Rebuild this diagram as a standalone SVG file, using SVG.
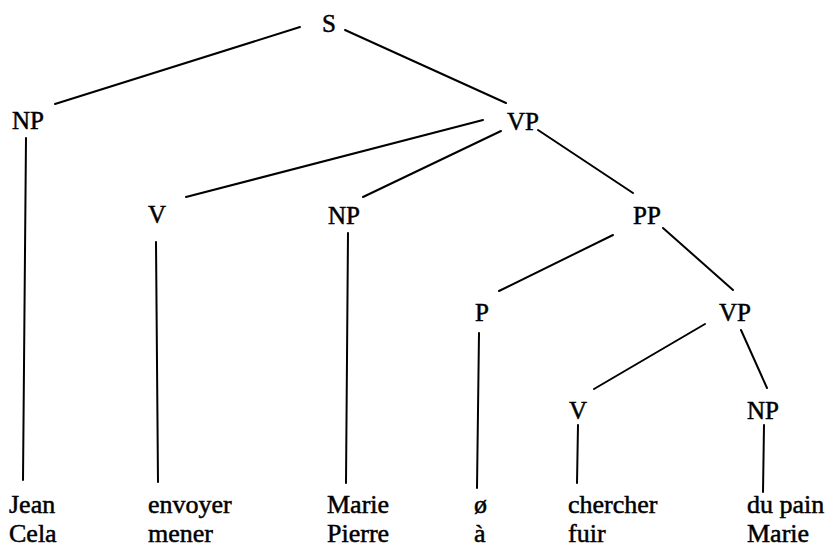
<svg xmlns="http://www.w3.org/2000/svg" width="829" height="548" viewBox="0 0 829 548">
<style>
text{font-family:"Liberation Serif","Times New Roman",Tinos,"DejaVu Serif",serif;fill:#000;stroke:#000;stroke-width:0.5}
.n{font-size:25px;text-anchor:middle}
.w{font-size:26px}
.c line{stroke:#000;stroke-width:2;stroke-linecap:round}
</style>
<rect width="829" height="548" fill="#fff"/>
<g class="c" id="connectors">
<line x1="300" y1="27" x2="55" y2="104"/>
<line x1="345" y1="30" x2="506" y2="103"/>
<line x1="26" y1="138" x2="23" y2="480"/>
<line x1="483" y1="120" x2="186" y2="197"/>
<line x1="501" y1="131" x2="363" y2="197"/>
<line x1="538" y1="130" x2="633" y2="193"/>
<line x1="156" y1="242" x2="158" y2="482"/>
<line x1="348" y1="233" x2="346" y2="483"/>
<line x1="613" y1="235" x2="499" y2="291"/>
<line x1="663" y1="228" x2="733" y2="290"/>
<line x1="479" y1="333" x2="477" y2="488"/>
<line x1="705" y1="324" x2="594" y2="389"/>
<line x1="741" y1="330" x2="767" y2="388"/>
<line x1="578" y1="425" x2="577" y2="483"/>
<line x1="764" y1="425" x2="763" y2="492"/>
</g>
<g id="S"><text class="n" x="329" y="32" font-family="Liberation Serif, serif">S</text></g>
<g id="NP1"><text class="n" x="28" y="129">NP</text></g>
<g id="VP1"><text class="n" x="523" y="130">VP</text></g>
<g id="V1"><text class="n" x="157" y="223">V</text></g>
<g id="NP2"><text class="n" x="344" y="224">NP</text></g>
<g id="PP"><text class="n" x="647" y="224">PP</text></g>
<g id="P"><text class="n" x="482" y="321">P</text></g>
<g id="VP2"><text class="n" x="735" y="321">VP</text></g>
<g id="V2"><text class="n" x="578" y="419">V</text></g>
<g id="NP3"><text class="n" x="763" y="419">NP</text></g>
<g id="leaf1"><text class="w" x="9" y="513">Jean</text><text class="w" x="9" y="542">Cela</text></g>
<g id="leaf2"><text class="w" x="148" y="513">envoyer</text><text class="w" x="148" y="542">mener</text></g>
<g id="leaf3"><text class="w" x="327" y="513">Marie</text><text class="w" x="327" y="542">Pierre</text></g>
<g id="leaf4"><text class="w" x="474" y="513">ø</text><text class="w" x="474" y="542">à</text></g>
<g id="leaf5"><text class="w" x="568" y="513">chercher</text><text class="w" x="568" y="542">fuir</text></g>
<g id="leaf6"><text class="w" x="747" y="513">du pain</text><text class="w" x="747" y="542">Marie</text></g>
</svg>
